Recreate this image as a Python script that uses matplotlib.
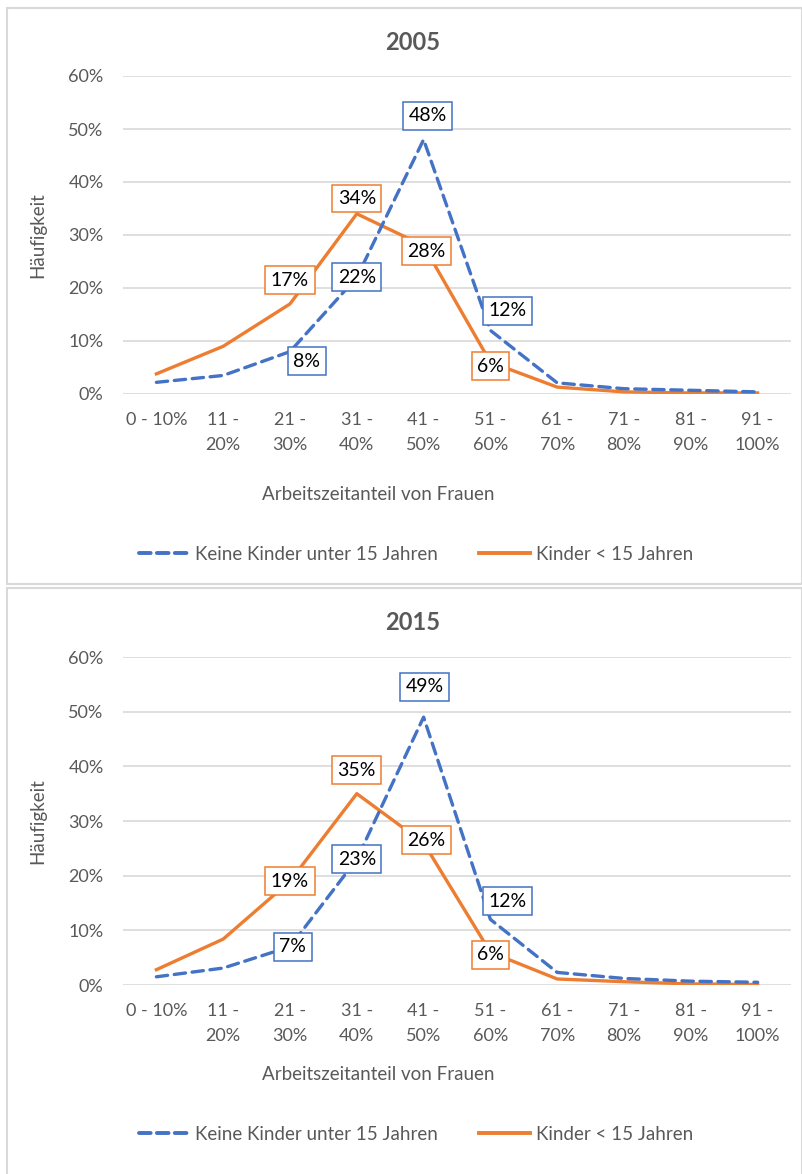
import matplotlib.pyplot as plt
import matplotlib.patches as mpatches
from matplotlib.lines import Line2D
from matplotlib.ticker import PercentFormatter

plt.rcParams['font.family'] = ['Lato', 'DejaVu Sans']

categories = ['0 - 10%', '11 -\n20%', '21 -\n30%', '31 -\n40%', '41 -\n50%',
              '51 -\n60%', '61 -\n70%', '71 -\n80%', '81 -\n90%', '91 -\n100%']

# Häufigkeit in Prozent
keine_2005 = [2.2, 3.5, 8, 22, 48, 12, 2.1, 1.0, 0.7, 0.4]
kinder_2005 = [3.8, 9.0, 17, 34, 28, 6, 1.3, 0.4, 0.2, 0.2]
keine_2015 = [1.5, 3.1, 7, 23, 49, 12, 2.3, 1.2, 0.7, 0.5]
kinder_2015 = [2.8, 8.4, 19, 35, 26, 6, 1.1, 0.6, 0.2, 0.1]

# welche Punkte beschriftet sind (Index)
lbl_keine = [2, 3, 4, 5]
lbl_kinder = [2, 3, 4, 5]

BLUE = '#4472C4'
ORANGE = '#ED7D31'
GRAY = '#595959'
GRID = '#d9d9d9'

W, H = 803, 1174
fig = plt.figure(figsize=(W / 100, H / 100), dpi=100)


def fx(px):
    return px / W


def fy(px):
    return 1 - px / H


def panel(top_px, bot_px, year, keine, kinder, off_keine, off_kinder):
    # Rahmen des Diagrammbereichs
    fig.patches.append(mpatches.Rectangle((fx(7), fy(bot_px)), fx(795), (bot_px - top_px) / H,
                                          transform=fig.transFigure, fill=False,
                                          edgecolor=GRID, linewidth=1.5))
    y0 = top_px + 386 if year == '2005' else top_px + 397
    y60 = top_px + 68 if year == '2005' else top_px + 69
    ax = fig.add_axes([fx(123), fy(y0), fx(668), (y0 - y60) / H])
    x = list(range(len(categories)))
    ax.plot(x, [v / 100 for v in keine], color=BLUE, lw=2.4, ls=(0, (3.4, 2)),
            dash_capstyle='round', zorder=3)
    ax.plot(x, [v / 100 for v in kinder], color=ORANGE, lw=2.4, zorder=2,
            solid_joinstyle='round')
    ax.set_xlim(-0.5, len(categories) - 0.5)
    ax.set_ylim(0, 0.6)
    ax.set_yticks([0, 0.1, 0.2, 0.3, 0.4, 0.5, 0.6])
    ax.yaxis.set_major_formatter(PercentFormatter(1.0, decimals=0))
    ax.set_xticks(x)
    ax.set_xticklabels(categories, linespacing=1.65)
    ax.tick_params(axis='both', length=0, labelsize=13, colors=GRAY, pad=13)
    ax.tick_params(axis='y', pad=14)
    for s in ax.spines.values():
        s.set_visible(False)
    ax.grid(axis='y', color=GRID, lw=1.2)
    ax.set_axisbelow(True)

    for (idx_list, vals, col, offs) in [(lbl_keine, keine, BLUE, off_keine),
                                        (lbl_kinder, kinder, ORANGE, off_kinder)]:
        for i, o in zip(idx_list, offs):
            ax.annotate(f'{vals[i]:.0f}%', (i, vals[i] / 100), xytext=o,
                        textcoords='offset points', ha='center', va='center',
                        fontsize=14, color='black', zorder=5,
                        bbox=dict(boxstyle='square,pad=0.28', fc='white', ec=col, lw=1.1))

    fig.text(fx(413), fy(top_px + 34), year, ha='center', va='center',
             fontsize=17, fontweight='bold', color=GRAY)
    fig.text(fx(38), fy((y0 + y60) / 2), 'Häufigkeit', rotation=90, ha='center',
             va='center', fontsize=13.5, color=GRAY)
    fig.text(fx(378), fy(top_px + 487), 'Arbeitszeitanteil von Frauen', ha='center',
             va='center', fontsize=13.5, color=GRAY)
    handles = [Line2D([], [], color=BLUE, lw=2.8, ls=(0, (3, 1.6)), dash_capstyle='round'),
               Line2D([], [], color=ORANGE, lw=2.8)]
    fig.legend(handles, ['Keine Kinder unter 15 Jahren', 'Kinder < 15 Jahren'],
               loc='center', bbox_to_anchor=(fx(416), fy(top_px + 546)), ncol=2,
               frameon=False, fontsize=13.5, labelcolor=GRAY, handlelength=2.7,
               handletextpad=0.3, columnspacing=2.2)


panel(8, 584, '2005', keine_2005, kinder_2005,
      [(12, -7), (0, 0), (3, 17), (12, 14)],
      [(0, 17), (0, 11), (2, -4), (0, -3)])
panel(588, 1176, '2015', keine_2015, kinder_2015,
      [(2, 0), (0, 0), (1, 22), (12, 13)],
      [(0, 0), (0, 17), (2, 2), (0, -2)])

fig.savefig('out.png', dpi=100)
